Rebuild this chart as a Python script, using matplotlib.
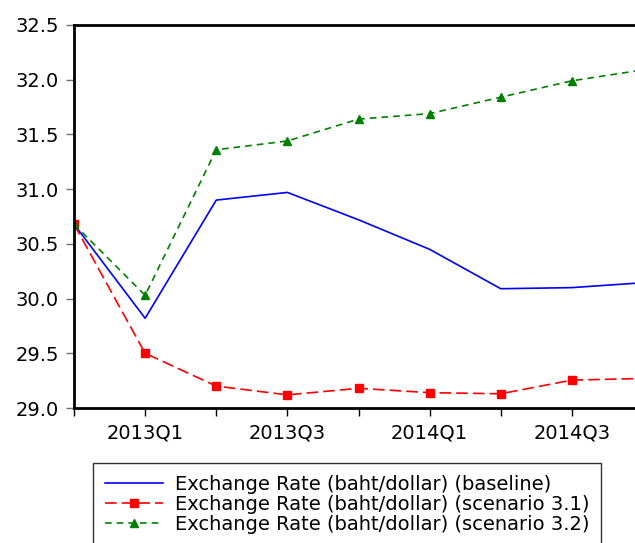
import matplotlib
matplotlib.use("Agg")
import matplotlib.pyplot as plt

# quarters 2012Q4 .. 2014Q4
quarters = ["2012Q4", "2013Q1", "2013Q2", "2013Q3", "2013Q4",
            "2014Q1", "2014Q2", "2014Q3", "2014Q4"]
baseline = [30.68, 29.82, 30.90, 30.97, 30.72, 30.45, 30.09, 30.10, 30.145]
scenario_31 = [30.68, 29.50, 29.20, 29.12, 29.18, 29.14, 29.13, 29.255, 29.27]
scenario_32 = [30.68, 30.03, 31.36, 31.44, 31.64, 31.69, 31.84, 31.99, 32.09]
yticks = [29.0, 29.5, 30.0, 30.5, 31.0, 31.5, 32.0, 32.5]

plt.rcParams["font.family"] = ["DejaVu Sans"]

W, H = 635, 543
fig = plt.figure(figsize=(W / 100, H / 100), dpi=100)
ax = fig.add_axes([74 / W, (H - 408) / H, (643 - 74) / W, 383 / H])

x = list(range(len(quarters)))
ax.plot(x, baseline, color="#0000ff", lw=1.2,
        label="Exchange Rate (baht/dollar) (baseline)")
ax.plot(x, scenario_31, color="#ff0000", lw=1.2, ls=(0, (7, 3)),
        marker="s", ms=5.5, label="Exchange Rate (baht/dollar) (scenario 3.1)")
ax.plot(x, scenario_32, color="#008000", lw=1.2, ls=(0, (4, 3)),
        marker="^", ms=5.5, label="Exchange Rate (baht/dollar) (scenario 3.2)")

ax.set_xlim(0, 8)
ax.set_ylim(29.0, 32.5)
ax.set_xticks(x)
ax.set_xticklabels([q if i % 2 == 1 else "" for i, q in enumerate(quarters)])
ax.set_yticks(yticks)
ax.set_yticklabels([f"{v:.1f}" for v in yticks])
ax.tick_params(axis="both", labelsize=14, direction="out", length=6,
               width=1, colors="black")
ax.tick_params(axis="y", color="#707070", pad=5)
ax.tick_params(axis="x", pad=5)

for side in ["left", "bottom", "top"]:
    ax.spines[side].set_linewidth(2)
    ax.spines[side].set_color("black")
ax.spines["right"].set_visible(False)

leg = fig.legend(loc="upper left", bbox_to_anchor=(93 / W, 1 - 463 / H),
                 fontsize=14, frameon=True, fancybox=False, handlelength=3.0,
                 handletextpad=0.6, borderpad=0.6, labelspacing=0.05,
                 borderaxespad=0)
leg.get_frame().set_edgecolor("black")
leg.get_frame().set_linewidth(1)

fig.savefig("out.png", dpi=100)
